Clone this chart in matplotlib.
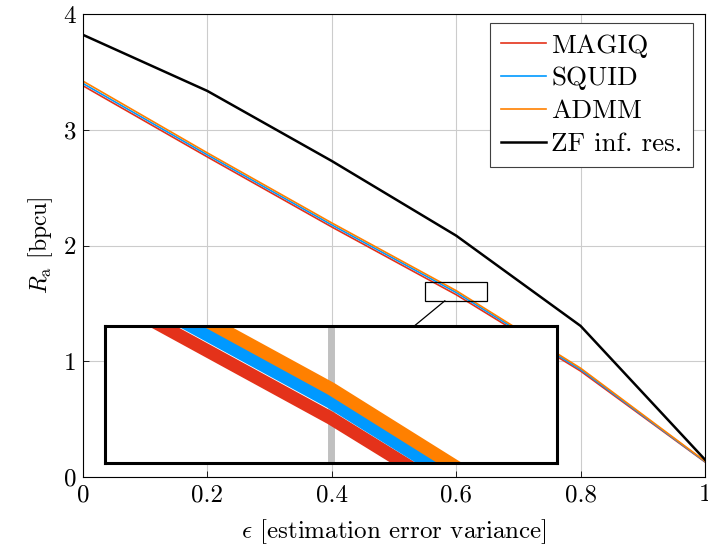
#!/usr/bin/env python3

import numpy as np
import matplotlib
matplotlib.use('Agg')
import matplotlib.pyplot as plt
from matplotlib.ticker import FuncFormatter
from matplotlib.patches import Rectangle

plt.rcParams['font.family'] = 'cmr10'
plt.rcParams['mathtext.fontset'] = 'cm'
plt.rcParams['axes.formatter.use_mathtext'] = True

eps = [0, 0.2, 0.4, 0.6, 0.8, 1.0]
magiq = [3.38, 2.765, 2.16, 1.575, 0.915, 0.13]
squid = [3.40, 2.783, 2.178, 1.594, 0.928, 0.133]
admm = [3.42, 2.80, 2.195, 1.61, 0.940, 0.137]
zf = [3.82, 3.335, 2.73, 2.085, 1.305, 0.15]

labels = ['MAGIQ', 'SQUID', 'ADMM', 'ZF inf. res.']
colors = ['#e4321a', '#0099ff', '#ff8000', 'black']

# zoomed region and where the zoom is drawn (data coords of main axes)
zx = (0.55, 0.65)
zy = (1.522, 1.684)
ins = (0.0354, 0.121, 0.7266, 1.181)

fig = plt.figure(figsize=(7.08, 5.51), dpi=100)
ax = fig.add_axes([83/708, 74/551, 622/708, 463/551])

series = [magiq, squid, admm, zf]
for y, lab, c in zip(series, labels, colors):
    lw = 1.8 if c == 'black' else 1.2
    ax.plot(eps, y, color=c, lw=lw, label=lab, solid_joinstyle='miter')

ax.set_xlim(0, 1)
ax.set_ylim(0, 4)
ax.set_xticks([0, 0.2, 0.4, 0.6, 0.8, 1])
ax.set_yticks([0, 1, 2, 3, 4])
ax.xaxis.set_major_formatter(FuncFormatter(lambda v, p: f'{v:g}'))
ax.yaxis.set_major_formatter(FuncFormatter(lambda v, p: f'{v:g}'))
ax.grid(True, color='#cccccc', lw=0.8)
ax.tick_params(direction='in', labelsize=18, length=4, width=0.6, pad=5)
for s in ax.spines.values():
    s.set_linewidth(0.8)
ax.set_xlabel(r'$\epsilon$ [estimation error variance]', fontsize=18, labelpad=8)
ax.set_ylabel(r'$R_\mathrm{a}$ [bpcu]', fontsize=17, labelpad=6)

leg = ax.legend(loc='upper right', bbox_to_anchor=(0.981, 0.981), borderaxespad=0,
                fontsize=19.5, fancybox=False, edgecolor='#404040',
                framealpha=1, borderpad=0.4, labelspacing=0.33, handlelength=1.65,
                handletextpad=0.2)
leg.get_frame().set_linewidth(0.8)

# spy box on main axes
ax.add_patch(Rectangle((zx[0], zy[0]), zx[1]-zx[0], zy[1]-zy[0], fill=False,
                       ec='black', lw=0.9, zorder=5))

# connecting line between the two rectangles, along the line of centres
c1 = np.array([(zx[0]+zx[1])/2, (zy[0]+zy[1])/2])
c2 = np.array([ins[0]+ins[2]/2, ins[1]+ins[3]/2])
d = c2 - c1

def edge_hit(c, hw, hh, d):
    t = min(hw/abs(d[0]) if d[0] else np.inf, hh/abs(d[1]) if d[1] else np.inf)
    return c + t*d

p1 = edge_hit(c1, (zx[1]-zx[0])/2, (zy[1]-zy[0])/2, d)
p2 = edge_hit(c2, ins[2]/2, ins[3]/2, -d)
ax.plot([p1[0], p2[0]], [p1[1], p2[1]], color='black', lw=0.9, zorder=5)

# magnified view
axi = ax.inset_axes(ins, transform=ax.transData, zorder=6)
axi.axvline(0.6, color='#c0c0c0', lw=5)
for y, c in zip(series[:3], colors[:3]):
    axi.plot(eps, y, color=c, lw=9.5, solid_capstyle='butt')
axi.set_xlim(*zx)
axi.set_ylim(*zy)
axi.set_xticks([])
axi.set_yticks([])
for s in axi.spines.values():
    s.set_linewidth(2.2)

fig.savefig('out.png', dpi=100)
